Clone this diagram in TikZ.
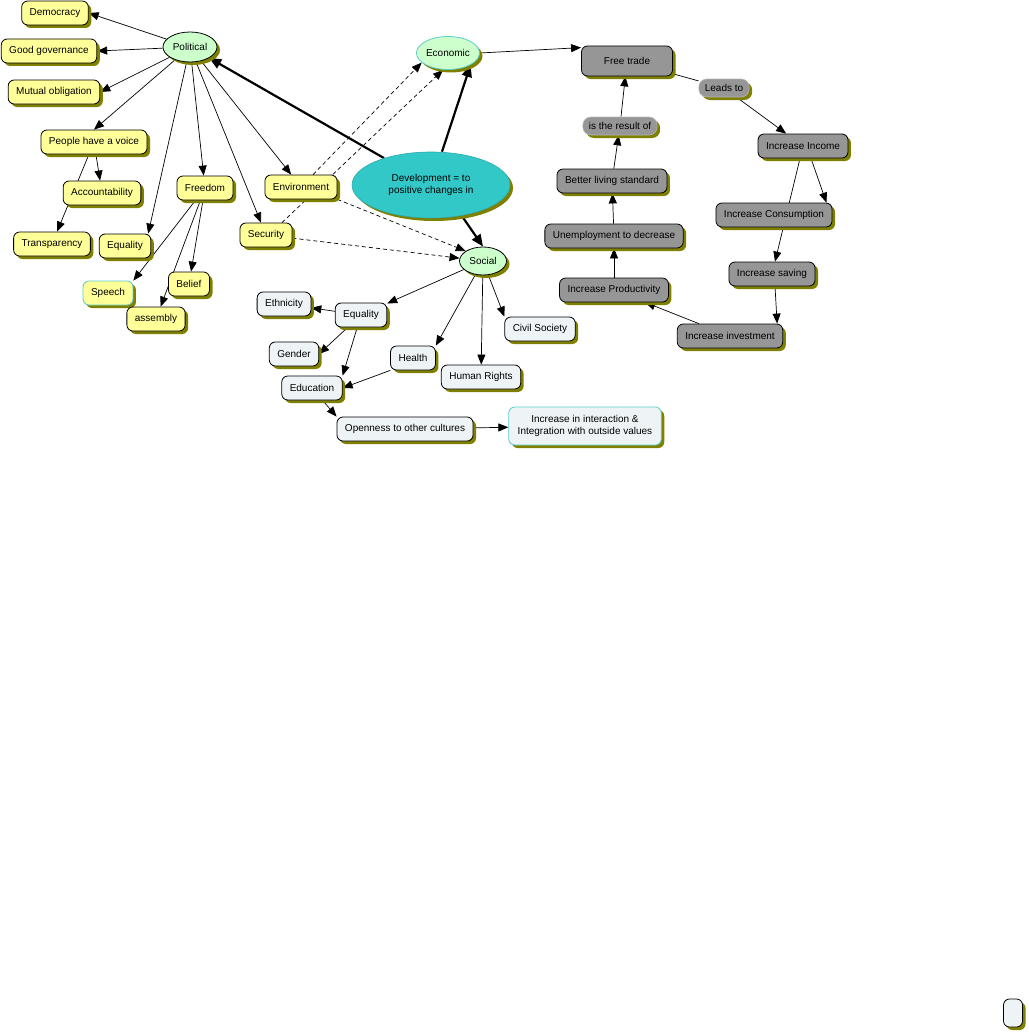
\documentclass[tikz,border=0pt]{standalone}
\usepackage{fontspec}
\setmainfont{Liberation Sans}
\usepackage{tikz}
\usetikzlibrary{arrows.meta,shapes.geometric,shadows,backgrounds}
\definecolor{shadowc}{RGB}{128,128,0}
\definecolor{ycolor}{RGB}{255,255,153}
\definecolor{gcolor}{RGB}{204,255,204}
\definecolor{tcolor}{RGB}{51,200,200}
\definecolor{lcolor}{RGB}{238,244,246}
\definecolor{dcolor}{RGB}{150,150,150}
\definecolor{ccolor}{RGB}{90,205,205}

\begin{document}
\begin{tikzpicture}[x=1pt,y=-1pt,font=\fontsize{10pt}{12pt}\selectfont]
  \tikzset{
    shade/.style={drop shadow={shadow xshift=3pt,shadow yshift=-3pt,fill=shadowc,opacity=1}},
    concept/.style={draw,rounded corners=6pt,line width=0.8pt,inner xsep=8pt,minimum height=24pt,shade},
    ybox/.style={concept,fill=ycolor},
    lbox/.style={concept,fill=lcolor},
    gbox/.style={concept,fill=dcolor},
    phrase/.style={fill=dcolor,draw=dcolor!70!white,line width=0.6pt,rounded corners=8pt,inner xsep=6pt,minimum height=18pt,shade},
    topic/.style={ellipse,draw,fill=gcolor,inner sep=0pt,line width=0.8pt,shade},
    link/.style={line width=0.7pt,-{Triangle[length=10pt,width=8pt]}},
    heavy/.style={line width=2.2pt,-{Triangle[length=12pt,width=10pt]}},
    dlink/.style={link,dash pattern=on 4pt off 3pt},
  }
  \useasboundingbox (0,0) rectangle (1028,1033);
  % ---------------- centre
  \node[ellipse,fill=tcolor,draw=tcolor!85!black,line width=0.6pt,inner sep=0pt,minimum width=158pt,minimum height=66pt,align=center,shade] (dev) at (431,185) {Development = to\\positive changes in};
  % ---------------- political
  \node[topic,minimum width=54pt,minimum height=30pt] (pol) at (190,47) {Political};
  \node[ybox] (dem) at (55,13) {Democracy};
  \node[ybox] (gov) at (49,51) {Good governance};
  \node[ybox] (mut) at (54,92) {Mutual obligation};
  \node[ybox] (voice) at (94,142) {People have a voice};
  \node[ybox] (acc) at (102,193) {Accountability};
  \node[ybox] (trans) at (52,244) {Transparency};
  \node[ybox] (eqp) at (125,246) {Equality};
  \node[ybox] (free) at (205,188) {Freedom};
  \node[ybox,draw=ccolor] (speech) at (108,293) {Speech};
  \node[ybox] (belief) at (189,284) {Belief};
  \node[ybox] (assem) at (156,319) {assembly};
  \node[ybox] (env) at (301,187) {Environment};
  \node[ybox] (sec) at (266,235) {Security};
  % ---------------- social
  \node[topic,minimum width=47pt,minimum height=28pt] (soc) at (483,261) {Social};
  \node[lbox] (eth) at (284,304) {Ethnicity};
  \node[lbox] (eqs) at (361,315) {Equality};
  \node[lbox] (gen) at (294,354) {Gender};
  \node[lbox] (hea) at (413,358) {Health};
  \node[lbox] (hum) at (481,377) {Human Rights};
  \node[lbox] (civ) at (540,329) {Civil Society};
  \node[lbox] (edu) at (312,388) {Education};
  \node[lbox] (open) at (405,429) {Openness to other cultures};
  \node[lbox,draw=ccolor,align=center,minimum height=38pt,inner xsep=9pt] (inter) at (585,426) {Increase in interaction \&\\Integration with outside values};
  % ---------------- economic
  \node[topic,draw=ccolor,minimum width=63pt,minimum height=33pt] (eco) at (448,53) {Economic};
  \node[gbox,minimum width=91pt,minimum height=30pt] (ft) at (627,61) {Free trade};
  \node[phrase] (leads) at (724,88) {Leads to};
  \node[phrase] (result) at (620,126) {is the result of};
  \node[gbox] (inc) at (803,146) {Increase Income};
  \node[gbox] (cons) at (774,215) {Increase Consumption};
  \node[gbox] (sav) at (772,274) {Increase saving};
  \node[gbox] (inv) at (730,336) {Increase investment};
  \node[gbox] (prod) at (614,290) {Increase Productivity};
  \node[gbox] (unemp) at (614,236) {Unemployment to decrease};
  \node[gbox] (better) at (612,181) {Better living standard};
  \node[lbox,minimum width=19pt,minimum height=28pt,inner sep=0pt] (blank) at (1013,1013) {};

  \begin{pgfonlayer}{background}
    % political links
    \foreach \tgt in {dem,gov,mut}{ \draw[link] (pol) -- (\tgt.east); }
    \draw[link] (pol) -- (voice.north);
    \draw[link] (pol) -- ([xshift=-3pt]eqp.north east);
    \draw[link] (pol) -- (free);
    \draw[link] (pol) -- (sec);
    \draw[link] (pol) -- (env);
    \draw[link] (voice) -- (acc);
    \draw[link] (voice) -- (trans);
    \draw[link] (free) -- (speech.north east);
    \draw[link] (free) -- (belief);
    \draw[link] (free) -- (assem);
    % development links
    \draw[heavy] (dev) -- (pol);
    \draw[heavy] ([xshift=11pt]dev.north) -- (eco.south east);
    \draw[heavy] (dev.-45) -- (soc.north);
    \draw[dlink] ([xshift=12pt]env.north) -- (eco.200);
    \draw[dlink] ([xshift=16pt]sec.north) -- ([xshift=-5pt]eco.south);
    \draw[dlink] (env.south east) -- (soc.150);
    \draw[dlink] (sec) -- (soc);
    % social links
    \draw[link] (soc) -- (eqs);
    \draw[link] (soc) -- (hea.north east);
    \draw[link] (soc) -- (hum);
    \draw[link] (soc) -- (civ.north west);
    \draw[link] (eqs) -- (eth);
    \draw[link] (eqs) -- (gen.east);
    \draw[link] (eqs) -- (edu.north east);
    \draw[link] (hea.south west) -- (edu.east);
    \draw[link] (edu) -- (open.north west);
    \draw[link] (open) -- (inter);
    % economic cycle
    \draw[link] (eco.east) -- ([yshift=-2pt]ft.north west);
    \draw[line width=0.7pt] (ft) -- (leads);
    \draw[link] (leads) -- (inc);
    \draw[link] ([xshift=8pt]inc.south) -- ([xshift=-6pt]cons.north east);
    \draw[link] (inc) -- (sav);
    \draw[link] ([xshift=3pt]sav.south) -- ([xshift=-6pt]inv.north east);
    \draw[link] (inv) -- (prod);
    \draw[link] (prod) -- (unemp);
    \draw[link] (unemp) -- (better);
    \draw[link] (better) -- (result);
    \draw[link] (result) -- (ft);
  \end{pgfonlayer}
\end{tikzpicture}
\end{document}
